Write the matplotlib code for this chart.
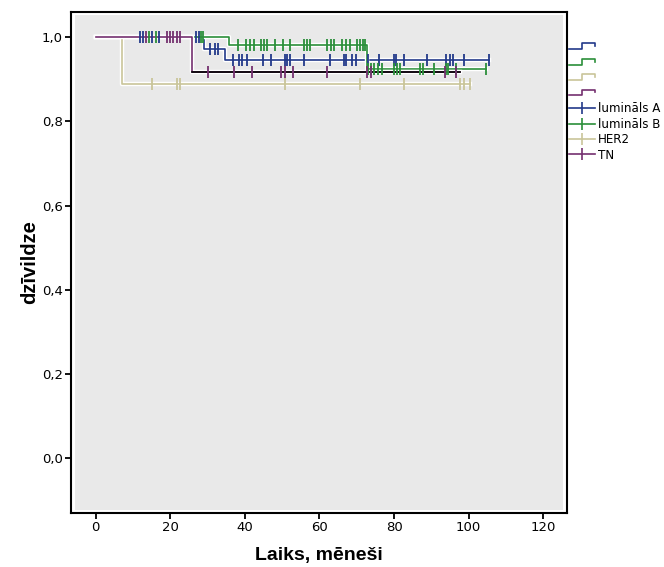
import numpy as np
import matplotlib.pyplot as plt
import matplotlib.patheffects as pe
from matplotlib.lines import Line2D
from matplotlib.patches import Rectangle
from matplotlib.legend_handler import HandlerBase
from matplotlib.ticker import FuncFormatter

groups = ["lumināls A", "lumināls B", "HER2", "TN"]
colors = ["#22398a", "#2b8f3a", "#c9c59a", "#74306f"]

# event times and survival level after each event
lumA_events = [29.0, 34.8]
lumA_surv = [0.973, 0.945]
lumA_end = 105.6
lumA_cens = [12.0, 12.7, 15.2, 17.0, 27.0, 27.7, 30.6, 31.9, 32.9, 36.9, 38.4,
             39.3, 40.6, 44.9, 46.9, 50.7, 51.3, 52.0, 55.8, 62.8, 66.5, 67.2,
             68.8, 69.8, 73.0, 75.9, 79.9, 80.6, 82.6, 88.8, 94.0, 94.9, 95.8,
             98.7, 105.6]

lumB_events = [35.7, 72.8]
lumB_surv = [0.982, 0.924]
lumB_end = 104.7
lumB_cens = [14.3, 16.1, 28.2, 28.7, 38.1, 40.2, 41.4, 42.4, 44.2, 45.1, 46.0,
             48.1, 50.1, 52.1, 55.8, 56.7, 57.6, 62.1, 63.0, 63.8, 66.1, 67.0,
             68.1, 70.1, 71.0, 71.7, 72.3, 73.1, 73.9, 74.7, 75.6, 76.8, 80.1,
             80.8, 81.7, 86.9, 87.8, 90.8, 94.0, 94.6, 96.7, 104.7]

her2_events = [7.0]
her2_surv = [0.889]
her2_end = 100.3
her2_cens = [15.0, 21.7, 22.6, 50.9, 70.8, 82.6, 97.6, 98.8, 100.3]

tn_events = [25.9]
tn_surv = [0.917]
tn_end = 97.8
tn_cens = [13.4, 19.0, 19.9, 20.8, 21.7, 22.6, 30.1, 37.0, 42.0, 49.8, 50.7,
           52.9, 61.9, 72.8, 73.7, 93.8, 96.6]

data = [
    (lumA_events, lumA_surv, lumA_end, lumA_cens),
    (lumB_events, lumB_surv, lumB_end, lumB_cens),
    (her2_events, her2_surv, her2_end, her2_cens),
    (tn_events, tn_surv, tn_end, tn_cens),
]


def km_steps(events, surv, end):
    t = np.array([0.0] + list(events) + [end])
    s = np.array([1.0] + list(surv) + [surv[-1]])
    return t, s


def surv_at(t, s, x):
    idx = np.searchsorted(t, x, side="right") - 1
    return s[np.clip(idx, 0, len(s) - 1)]


class StepHandler(HandlerBase):
    def create_artists(self, legend, orig_handle, xdescent, ydescent,
                       width, height, fontsize, trans):
        x0 = -xdescent
        y0 = -ydescent
        xs = [x0, x0 + width * 0.5, x0 + width * 0.5, x0 + width, x0 + width]
        ys = [y0 + height * 0.2, y0 + height * 0.2, y0 + height * 0.9,
              y0 + height * 0.9, y0 + height * 0.55]
        ln = Line2D(xs, ys, color=orig_handle.get_color(), lw=1.2,
                    transform=trans)
        return [ln]


halo = [pe.Stroke(linewidth=3.2, foreground="white"), pe.Normal()]

fig = plt.figure(figsize=(6.64, 5.67), dpi=100)
ax = fig.add_axes([0.107, 0.095, 0.747, 0.884])
ax.set_facecolor("white")
ax.add_patch(Rectangle((0.008, 0.006), 0.984, 0.988, transform=ax.transAxes,
                       facecolor="#e9e9e9", edgecolor="none", zorder=0))

order = [2, 0, 1, 3]
for i in order:
    events, surv, end, cens = data[i]
    t, s = km_steps(events, surv, end)
    ax.plot(t, s, drawstyle="steps-post", color=colors[i], lw=1.2,
            path_effects=halo, zorder=2 + i)
    cy = surv_at(t, s, np.array(cens))
    ax.plot(cens, cy, ls="none", marker="|", ms=8, mew=1.3,
            color=colors[i], zorder=10 + i)

# TN line after its event is drawn black
t, s = km_steps(tn_events, tn_surv, tn_end)
ax.plot(t[1:], s[1:], drawstyle="steps-post", color="black", lw=1.2, zorder=6)

ax.set_xlim(-6.6, 126.4)
ax.set_ylim(-0.13, 1.06)
ax.set_xticks(np.arange(0, 121, 20))
ax.set_yticks(np.arange(0, 1.01, 0.2))
ax.yaxis.set_major_formatter(FuncFormatter(lambda v, p: f"{v:.1f}".replace(".", ",")))
ax.tick_params(direction="out", length=4, width=1.3, labelsize=9.5, pad=2)
for sp in ax.spines.values():
    sp.set_linewidth(1.5)

ax.set_xlabel("Laiks, mēneši", fontsize=14, fontweight="bold",
              family="Liberation Sans", labelpad=9)
ax.set_ylabel("dzīvildze", fontsize=14.5, fontweight="bold",
              family="Liberation Sans", labelpad=2)

step_handles = [Line2D([], [], color=c) for c in colors]
mark_handles = [Line2D([], [], color=c, lw=1.2, marker="|", ms=8, mew=1.2)
                for c in colors]
handles = step_handles + mark_handles
labels = [""] * 4 + groups
hmap = {h: StepHandler() for h in step_handles}
leg = ax.legend(handles, labels, handler_map=hmap, loc="upper left",
                bbox_to_anchor=(1.0, 0.947), frameon=False, fontsize=8.6,
                handlelength=2.1, handletextpad=0.3, labelspacing=0.2,
                borderaxespad=0.2, borderpad=0.0)

fig.savefig("out.png", dpi=100)
